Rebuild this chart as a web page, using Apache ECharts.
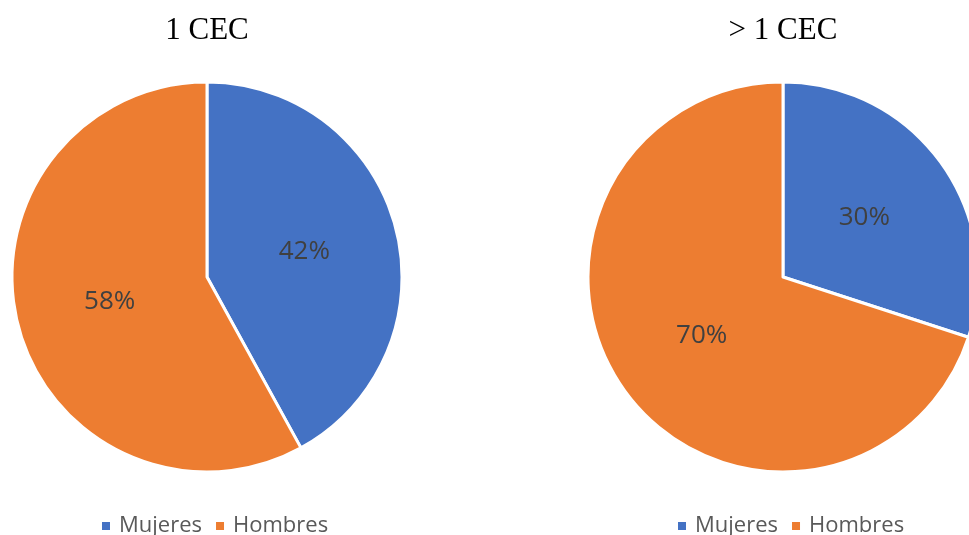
<!DOCTYPE html>
<html>
<head>
<meta charset="utf-8">
<script src="https://cdn.jsdelivr.net/npm/echarts@6/dist/echarts.min.js"></script>
<style>
  html, body { margin: 0; padding: 0; background: #ffffff; }
  #chart { width: 969px; height: 535px; }
</style>
</head>
<body>
<div id="chart"></div>
<script>
// Gender split by number of CEC
const categories = ['Mujeres', 'Hombres'];
const titles = ['1 CEC', '> 1 CEC'];
const valuesOneCec = [42, 58];
const valuesMoreCec = [30, 70];

const colors = ['#4472C4', '#ED7D31'];
const centersX = [207, 783];
const centerY = 277;
const radius = 195;

function pieSeries(values, cx) {
  return {
    type: 'pie',
    center: [cx, centerY],
    radius: [0, radius],
    startAngle: 90,
    clockwise: true,
    avoidLabelOverlap: false,
    silent: true,
    animation: false,
    itemStyle: { borderColor: '#ffffff', borderWidth: 3 },
    label: {
      show: true,
      position: 'inside',
      formatter: '{c}%',
      color: '#404040',
      fontFamily: 'Open Sans',
      fontSize: 26
    },
    labelLine: { show: false },
    data: categories.map((name, i) => ({ name, value: values[i] }))
  };
}

function legend(left) {
  return {
    left: left,
    top: 515,
    padding: 0,
    orient: 'horizontal',
    icon: 'rect',
    itemWidth: 10,
    itemHeight: 10,
    itemGap: 12,
    selectedMode: false,
    textStyle: { color: '#595959', fontFamily: 'Open Sans', fontSize: 22, padding: [0, 0, 0, 3] },
    data: categories
  };
}

const chart = echarts.init(document.getElementById('chart'), null, { renderer: 'canvas' });
chart.setOption({
  backgroundColor: '#ffffff',
  color: colors,
  animation: false,
  title: titles.map((t, i) => ({
    text: t,
    left: centersX[i],
    top: 15,
    padding: 0,
    textAlign: 'center',
    textStyle: { fontFamily: 'Liberation Serif', fontWeight: 'normal', fontSize: 31, color: '#000000' }
  })),
  legend: [legend(100), legend(676)],
  series: [pieSeries(valuesOneCec, centersX[0]), pieSeries(valuesMoreCec, centersX[1])]
});
</script>
</body>
</html>
